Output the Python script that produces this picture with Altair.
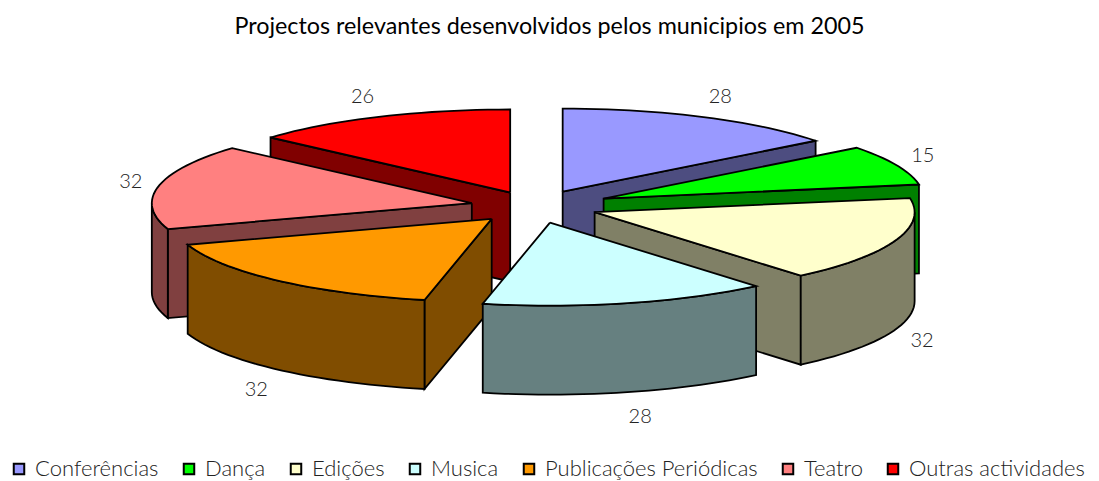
import math
import altair as alt
import pandas as pd

title = "Projectos relevantes desenvolvidos pelos municipios em 2005"
categories = ["Conferências", "Dança", "Edições", "Musica", "Publicações Periódicas", "Teatro", "Outras actividades"]
values = [28, 15, 32, 28, 32, 32, 26]
top_colors = ["#9999FF", "#00FF00", "#FFFFCC", "#CCFFFF", "#FF9900", "#FF8080", "#FF0000"]
side_colors = ["#4D4D80", "#008000", "#808066", "#668080", "#804D00", "#804040", "#800000"]
explode = [0.2, 0.236, 0.2, 0.2, 0.2, 0.2, 0.185]
paint_order = [6, 0, 5, 1, 2, 4, 3]

CX, CY, RX, RY, DEPTH = 534.5, 206.5, 320.0, 83.0, 89.0
TOP = 48
W, H = 1083, 425


def pt(a, deg, rx=RX, ry=RY):
    t = math.radians(deg)
    return (a[0] + rx * math.sin(t), a[1] - ry * math.cos(t))


total = sum(values)
spans, c = [], 0.0
for v in values:
    spans.append((c, c + v / total * 360))
    c += v / total * 360

rows, labels, fid = [], [], 0


def add_face(points, color):
    global fid
    closed = list(points) + [points[0]]
    for s, (x, y) in enumerate(closed):
        rows.append({"face": fid, "seq": s, "x": x, "y": y, "fill": color})
    fid += 1


for i in paint_order:
    a0, a1 = spans[i]
    mid = (a0 + a1) / 2
    apex = pt((CX, CY), mid, RX * explode[i], RY * explode[i])
    p0, p1 = pt(apex, a0), pt(apex, a1)
    down = lambda p: (p[0], p[1] + DEPTH)
    # flat cut walls that face the viewer
    if p0[0] < apex[0] - 0.5:
        add_face([apex, p0, down(p0), down(apex)], side_colors[i])
    if p1[0] > apex[0] + 0.5:
        add_face([p1, apex, down(apex), down(p1)], side_colors[i])
    # curved outer wall, only the front half of the ellipse
    w0, w1 = max(a0, 90), min(a1, 270)
    if w1 > w0:
        n = max(2, int((w1 - w0) / 2))
        arc = [pt(apex, w0 + (w1 - w0) * k / n) for k in range(n + 1)]
        add_face(arc + [down(p) for p in reversed(arc)], side_colors[i])
    # top face
    n = max(4, int((a1 - a0) / 2))
    add_face([apex] + [pt(apex, a0 + (a1 - a0) * k / n) for k in range(n + 1)], top_colors[i])
    # value label
    s, co = math.sin(math.radians(mid)), math.cos(math.radians(mid))
    lx = apex[0] + 340 * s + (8 if s > 0 else -8)
    ly = apex[1] - 105 * co + (DEPTH + 4 if co < 0 and abs(s) < 0.95 else 0)
    labels.append({"x": lx, "y": ly, "text": str(values[i])})

faces = pd.DataFrame(rows)
lab = pd.DataFrame(labels)
x_s = alt.Scale(domain=[8, 8 + W], nice=False, zero=False)
y_s = alt.Scale(domain=[TOP, TOP + H], nice=False, zero=False, reverse=True)
xe = alt.X("x:Q", scale=x_s, axis=None)
ye = alt.Y("y:Q", scale=y_s, axis=None)

pie = alt.Chart(faces).mark_line(stroke="black", strokeWidth=1.8, strokeJoin="miter", clip=False).encode(
    x=xe, y=ye, order=alt.Order("seq:Q"), detail="face:Q",
    fill=alt.Fill("fill:N", scale=None),
)
txt = alt.Chart(lab).mark_text(font="Lato", fontSize=20, fontWeight=300, color="#222222", align="center", baseline="middle").encode(
    x=xe, y=ye, text="text:N"
)
leg_df = pd.DataFrame({"cat": categories})
leg = alt.Chart(leg_df).mark_square(opacity=0).encode(
    fill=alt.Fill("cat:N",
        scale=alt.Scale(domain=categories, range=top_colors),
        sort=categories,
        legend=alt.Legend(title=None, orient="none", legendX=0, legendY=410, direction="horizontal",
                          columns=7, columnPadding=19, symbolType="square", symbolSize=110,
                          symbolOpacity=1, symbolStrokeColor="black", symbolStrokeWidth=2,
                          labelFont="Lato", labelFontSize=22, labelFontWeight=300, labelColor="#222222", labelOffset=5,
                          labelLimit=400, padding=0)),
)
chart = alt.layer(pie, txt, leg).resolve_scale(fill="independent").properties(
    width=W, height=H,
    padding={"left": 0, "right": 0, "top": TOP - 8, "bottom": 8},
    autosize=alt.AutoSizeParams(type="none"),
    title=alt.TitleParams(title, font="Lato", fontSize=23.3, fontWeight="normal", color="black",
                          anchor="middle", frame="group", offset=9),
).configure_view(stroke=None)
chart.save("out.html", embed_options={"renderer": "svg", "actions": False})
